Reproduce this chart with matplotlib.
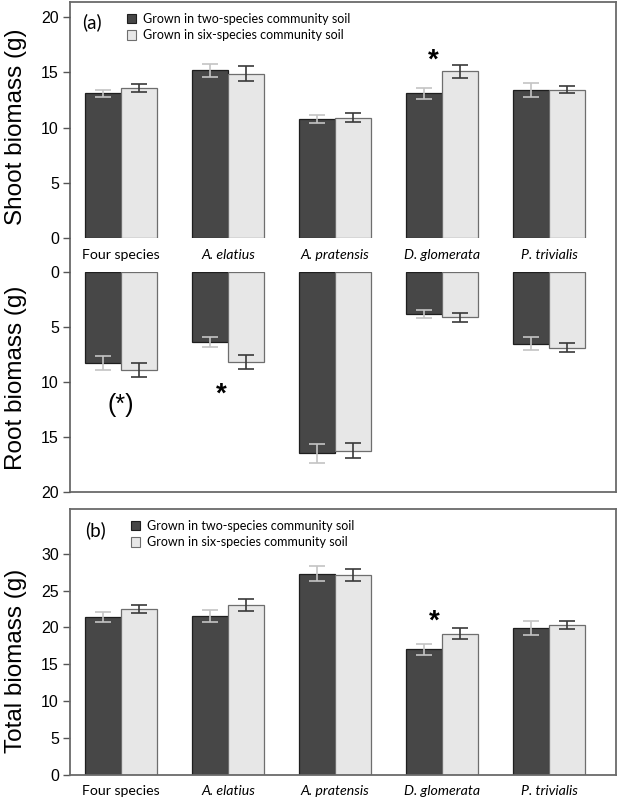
import matplotlib
matplotlib.use('Agg')
import matplotlib.pyplot as plt
from matplotlib.patches import Patch
import numpy as np

# === Données ===
especes = ["Four species", "A. elatius", "A. pratensis", "D. glomerata", "P. trivialis"]
en_italique = [False, True, True, True, True]
serie_labels = ["Grown in two-species community soil", "Grown in six-species community soil"]

shoot_deux = [13.1, 15.2, 10.8, 13.1, 13.4]
shoot_deux_err = [0.33, 0.60, 0.35, 0.53, 0.65]
shoot_six = [13.6, 14.9, 10.9, 15.1, 13.45]
shoot_six_err = [0.35, 0.65, 0.42, 0.56, 0.35]

root_deux = [8.3, 6.4, 16.5, 3.85, 6.55]
root_deux_err = [0.65, 0.45, 0.86, 0.38, 0.60]
root_six = [8.9, 8.2, 16.25, 4.15, 6.9]
root_six_err = [0.63, 0.60, 0.70, 0.40, 0.40]

total_deux = [21.4, 21.6, 27.3, 17.05, 19.95]
total_deux_err = [0.68, 0.80, 1.00, 0.75, 0.98]
total_six = [22.5, 23.05, 27.15, 19.15, 20.35]
total_six_err = [0.57, 0.82, 0.84, 0.72, 0.60]

shoot_ticks = [0, 5, 10, 15, 20]
root_ticks = [0, 5, 10, 15, 20]
total_ticks = [0, 5, 10, 15, 20, 25, 30]

# === Style ===
FONT_NUM = "Liberation Sans"
FONT_TXT = "Lato"
C_FONCE = "#474747"
C_CLAIR = "#e7e7e7"
E_FONCE = "#1e1e1e"
E_CLAIR = "#6e6e6e"
ERR_FONCE = "#c4c4c4"
ERR_CLAIR = "#3a3a3a"
C_CADRE = "#6a6a6a"

W, H = 617, 798
fig = plt.figure(figsize=(W / 100, H / 100), dpi=100)

def boite(x0, y0, x1, y1):
    # pixels (origine en haut à gauche) -> fraction de figure
    return [x0 / W, 1 - y1 / H, (x1 - x0) / W, (y1 - y0) / H]

x = np.arange(len(especes))
larg = 0.336
XLIM = (-0.477, 4.626)

def barres(ax, v1, e1, v2, e2):
    ax.bar(x - larg / 2, v1, larg, color=C_FONCE, edgecolor=E_FONCE, linewidth=0.9, zorder=2)
    ax.bar(x + larg / 2, v2, larg, color=C_CLAIR, edgecolor=E_CLAIR, linewidth=0.9, zorder=2)
    ax.errorbar(x - larg / 2, v1, yerr=e1, fmt='none', ecolor=ERR_FONCE, elinewidth=1.2,
                capsize=6, capthick=1.2, zorder=3)
    ax.errorbar(x + larg / 2, v2, yerr=e2, fmt='none', ecolor=ERR_CLAIR, elinewidth=1.2,
                capsize=6, capthick=1.2, zorder=3)
    ax.set_xlim(*XLIM)
    ax.set_xticks([])
    for s in ax.spines.values():
        s.set_visible(False)
    ax.tick_params(axis='y', direction='out', length=5, width=1, color='#555555', pad=3,
                   labelsize=11.5)
    ax.set_facecolor('none')

def legende(ax, x0, y0):
    handles = [Patch(facecolor=C_FONCE, edgecolor=E_FONCE, linewidth=0.8),
               Patch(facecolor=C_CLAIR, edgecolor=E_CLAIR, linewidth=0.8)]
    return ax.legend(handles, serie_labels, loc='upper left', bbox_to_anchor=(x0 / W, 1 - y0 / H),
                     bbox_transform=fig.transFigure, frameon=False, borderpad=0, borderaxespad=0,
                     handlelength=0.75, handleheight=0.75, handletextpad=0.5, labelspacing=0.35,
                     prop={'family': FONT_TXT, 'size': 9})

def etiquettes(ax, y):
    for i, (nom, it) in enumerate(zip(especes, en_italique)):
        ax.text(x[i], y, nom, ha='center', va='center', fontsize=10.2, family=FONT_TXT,
                style='italic' if it else 'normal', clip_on=False)

def etoile(ax, xx, yy, txt="*", taille=20):
    ax.text(xx, yy, txt, ha='center', va='center', fontsize=taille, family=FONT_NUM,
            fontweight='bold')

# === Panneau (a) : cadre ===
cadre_a = fig.add_axes(boite(70, 2, 616, 492))
cadre_a.set_xticks([]); cadre_a.set_yticks([])
for s in cadre_a.spines.values():
    s.set_color(C_CADRE); s.set_linewidth(1.3)

# pousses
ax_s = fig.add_axes(boite(70, 2, 616, 237.7))
barres(ax_s, shoot_deux, shoot_deux_err, shoot_six, shoot_six_err)
ax_s.set_ylim(0, 21.4)
ax_s.set_yticks(shoot_ticks)
ax_s.set_yticklabels([str(t) for t in shoot_ticks], family=FONT_NUM)
etiquettes(ax_s, -1.55)
etoile(ax_s, x[3] - 0.08, 16.1)
ax_s.text(82 / W, 1 - 22 / H, "(a)", transform=fig.transFigure, ha='left', va='center',
          fontsize=13.5, family=FONT_TXT)
legende(ax_s, 127, 13)

# racines
ax_r = fig.add_axes(boite(70, 271.7, 616, 492))
barres(ax_r, root_deux, root_deux_err, root_six, root_six_err)
ax_r.set_ylim(20, 0)
ax_r.set_yticks(root_ticks)
ax_r.set_yticklabels([str(t) for t in root_ticks], family=FONT_NUM)
ax_r.text(x[0], 12.1, "(*)", ha='center', va='center', fontsize=18, family=FONT_NUM)
etoile(ax_r, x[1] - 0.065, 11.2)

# === Panneau (b) : biomasse totale ===
ax_t = fig.add_axes(boite(70, 509, 616, 774.7))
barres(ax_t, total_deux, total_deux_err, total_six, total_six_err)
for s in ax_t.spines.values():
    s.set_visible(True); s.set_color(C_CADRE); s.set_linewidth(1.3)
ax_t.set_ylim(0, 36.1)
ax_t.set_yticks(total_ticks)
ax_t.set_yticklabels([str(t) for t in total_ticks], family=FONT_NUM)
etiquettes(ax_t, -2.15)
etoile(ax_t, x[3] - 0.07, 20.8)
ax_t.text(85 / W, 1 - 530 / H, "(b)", transform=fig.transFigure, ha='left', va='center',
          fontsize=13.5, family=FONT_TXT)
legende(ax_t, 131, 520)

# titres des axes
for txt, yc in [("Shoot biomass (g)", 127), ("Root biomass (g)", 378), ("Total biomass (g)", 661)]:
    fig.text(16 / W, 1 - yc / H, txt, rotation=90, ha='center', va='center',
             fontsize=17.5, family=FONT_NUM)

plt.savefig("out.png", dpi=100)
